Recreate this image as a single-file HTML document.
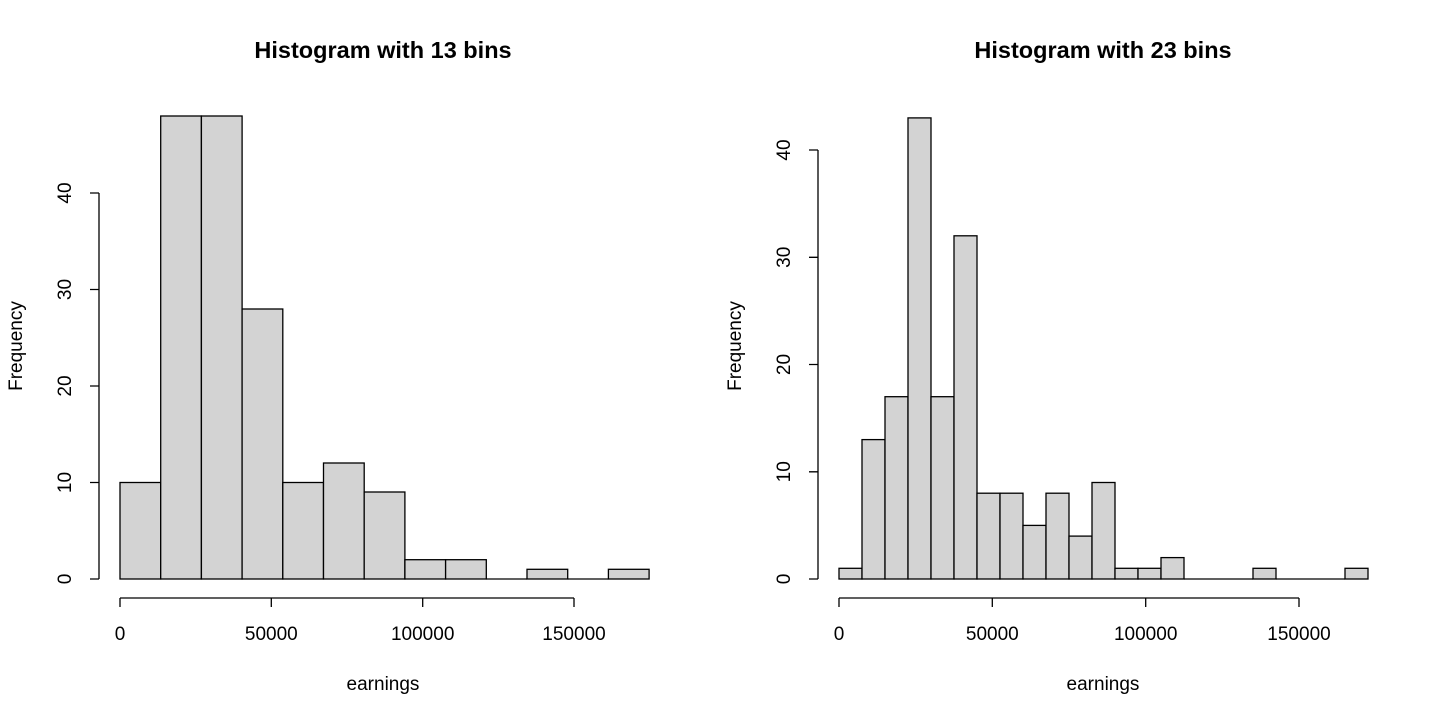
<!DOCTYPE html><html><head><style>body{margin:0;background:#fff}</style></head><body>
<svg width="1440" height="720" xmlns="http://www.w3.org/2000/svg" font-family="Liberation Sans, Arial, sans-serif" font-size="19">
<g>
<text x="383" y="58" text-anchor="middle" font-weight="bold" font-size="23.5">Histogram with 13 bins</text>
<text x="383" y="690" text-anchor="middle">earnings</text>
<text transform="translate(22,346) rotate(-90)" text-anchor="middle">Frequency</text>
<g fill="#d3d3d3" stroke="#000" stroke-width="1.3">
<rect x="120" y="482.5" width="40.7" height="96.5"/>
<rect x="160.7" y="116" width="40.7" height="463"/>
<rect x="201.4" y="116" width="40.7" height="463"/>
<rect x="242.1" y="309" width="40.7" height="270"/>
<rect x="282.8" y="482.5" width="40.7" height="96.5"/>
<rect x="323.5" y="463" width="40.7" height="116"/>
<rect x="364.2" y="492" width="40.7" height="87"/>
<rect x="404.9" y="559.7" width="40.7" height="19.3"/>
<rect x="445.6" y="559.7" width="40.7" height="19.3"/>
<path d="M486.3 579H527"/>
<rect x="527" y="569.3" width="40.7" height="9.7"/>
<path d="M567.7 579H608.4"/>
<rect x="608.4" y="569.3" width="40.7" height="9.7"/>
</g>
<g stroke="#000" stroke-width="1.3" fill="none">
<path d="M120 598H574M120 598v9M271.3 598v9M422.7 598v9M574 598v9"/>
<path d="M99 579V193M99 579h-9M99 482.5h-9M99 386h-9M99 289.5h-9M99 193h-9"/>
</g>
<g text-anchor="middle"><text x="120" y="640">0</text><text x="271.3" y="640">50000</text><text x="422.7" y="640">100000</text><text x="574" y="640">150000</text></g>
<g text-anchor="middle"><text transform="translate(71,579) rotate(-90)">0</text><text transform="translate(71,482.5) rotate(-90)">10</text><text transform="translate(71,386) rotate(-90)">20</text><text transform="translate(71,289.5) rotate(-90)">30</text><text transform="translate(71,193) rotate(-90)">40</text></g>
</g>
<g>
<text x="1103" y="58" text-anchor="middle" font-weight="bold" font-size="23.5">Histogram with 23 bins</text>
<text x="1103" y="690" text-anchor="middle">earnings</text>
<text transform="translate(741,346) rotate(-90)" text-anchor="middle">Frequency</text>
<g stroke="#000" stroke-width="1.3" fill="none">
<path d="M839 598H1299M839 598v9M992.3 598v9M1145.7 598v9M1299 598v9"/>
<path d="M818 579V150M818 579h-9M818 471.8h-9M818 364.5h-9M818 257.3h-9M818 150h-9"/>
</g>
<g text-anchor="middle"><text x="839" y="640">0</text><text x="992.3" y="640">50000</text><text x="1145.7" y="640">100000</text><text x="1299" y="640">150000</text></g>
<g text-anchor="middle"><text transform="translate(790,579) rotate(-90)">0</text><text transform="translate(790,471.8) rotate(-90)">10</text><text transform="translate(790,364.5) rotate(-90)">20</text><text transform="translate(790,257.3) rotate(-90)">30</text><text transform="translate(790,150) rotate(-90)">40</text></g>
</g>
<g fill="#d3d3d3" stroke="#000" stroke-width="1.3">
<rect x="839" y="568.3" width="23" height="10.7"/>
<rect x="862" y="439.6" width="23" height="139.4"/>
<rect x="885" y="396.7" width="23" height="182.3"/>
<rect x="908" y="117.9" width="23" height="461.1"/>
<rect x="931" y="396.7" width="23" height="182.3"/>
<rect x="954" y="235.8" width="23" height="343.2"/>
<rect x="977" y="493.2" width="23" height="85.8"/>
<rect x="1000" y="493.2" width="23" height="85.8"/>
<rect x="1023" y="525.4" width="23" height="53.6"/>
<rect x="1046" y="493.2" width="23" height="85.8"/>
<rect x="1069" y="536.1" width="23" height="42.9"/>
<rect x="1092" y="482.5" width="23" height="96.5"/>
<rect x="1115" y="568.3" width="23" height="10.7"/>
<rect x="1138" y="568.3" width="23" height="10.7"/>
<rect x="1161" y="557.6" width="23" height="21.4"/>
<path d="M1184 579H1253"/>
<rect x="1253" y="568.3" width="23" height="10.7"/>
<path d="M1276 579H1345"/>
<rect x="1345" y="568.3" width="23" height="10.7"/>
</g>
</svg>
</body></html>
